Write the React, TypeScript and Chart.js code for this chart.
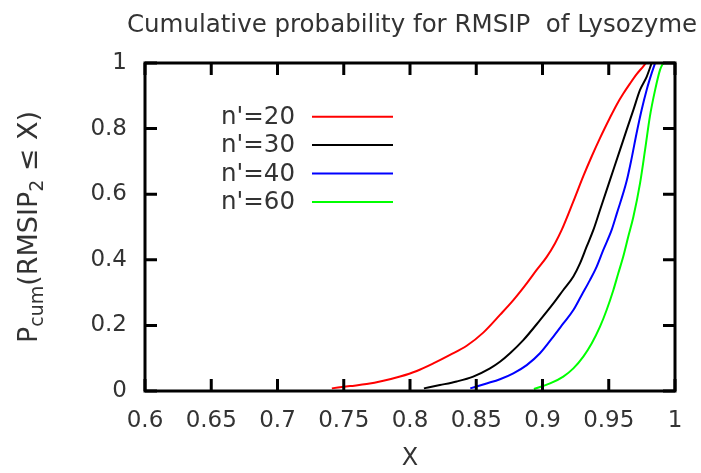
import React, { useEffect, useRef } from "react";
import { Chart, registerables } from "chart.js";

Chart.register(...registerables);

const TITLE = "Cumulative probability for RMSIP  of Lysozyme";
const X_LABEL = "X";
const xTickLabels = ["0.6", "0.65", "0.7", "0.75", "0.8", "0.85", "0.9", "0.95", "1"];
const yTickLabels = ["0", "0.2", "0.4", "0.6", "0.8", "1"];
const seriesLabels = ["n'=20", "n'=30", "n'=40", "n'=60"];
const seriesColors = ["#ff0000", "#000000", "#0000ff", "#00ff00"];

const x20 = [0.741, 0.7547, 0.7673, 0.7799, 0.7925, 0.8051, 0.8176, 0.8302, 0.8428, 0.8553, 0.8679, 0.878, 0.8881, 0.8956, 0.9032, 0.9094, 0.9145, 0.9233, 0.9308, 0.9371, 0.9434, 0.9509, 0.956, 0.9609, 0.966, 0.9711, 0.9761, 0.978];
const p20 = [0.008, 0.015, 0.021, 0.031, 0.044, 0.061, 0.084, 0.11, 0.138, 0.178, 0.232, 0.277, 0.328, 0.369, 0.409, 0.45, 0.491, 0.578, 0.655, 0.715, 0.771, 0.833, 0.873, 0.906, 0.937, 0.966, 0.99, 1];

const x30 = [0.8105, 0.8226, 0.8352, 0.8477, 0.8604, 0.8679, 0.8755, 0.8855, 0.8981, 0.9082, 0.9157, 0.9233, 0.9283, 0.9333, 0.9384, 0.9434, 0.9509, 0.9585, 0.9635, 0.9686, 0.9736, 0.9786, 0.9824];
const p30 = [0.008, 0.018, 0.029, 0.044, 0.069, 0.089, 0.115, 0.155, 0.216, 0.267, 0.308, 0.349, 0.389, 0.44, 0.491, 0.552, 0.643, 0.735, 0.796, 0.857, 0.918, 0.958, 1];

const x40 = [0.8455, 0.8578, 0.8679, 0.878, 0.8881, 0.8981, 0.9082, 0.9157, 0.9233, 0.9296, 0.9358, 0.9409, 0.9459, 0.9522, 0.956, 0.9635, 0.9673, 0.971, 0.9748, 0.9786, 0.9824, 0.985];
const p40 = [0.008, 0.023, 0.036, 0.054, 0.079, 0.115, 0.166, 0.206, 0.247, 0.293, 0.338, 0.379, 0.43, 0.491, 0.54, 0.64, 0.71, 0.786, 0.857, 0.918, 0.969, 1];

const x60 = [0.8935, 0.9057, 0.9157, 0.9233, 0.9308, 0.9371, 0.9434, 0.9484, 0.9535, 0.9572, 0.9609, 0.9647, 0.9686, 0.9736, 0.9774, 0.981, 0.985, 0.9887, 0.991];
const p60 = [0.006, 0.023, 0.044, 0.069, 0.105, 0.145, 0.196, 0.247, 0.308, 0.359, 0.409, 0.47, 0.531, 0.633, 0.735, 0.836, 0.918, 0.979, 1];

const FONT = '"DejaVu Sans", "Liberation Sans", sans-serif';
const TEXT_COLOR = "#333333";

export default function App() {
  const ref = useRef<HTMLCanvasElement>(null);

  useEffect(() => {
    document.body.style.margin = "0";
    const canvas = ref.current;
    if (!canvas) return;
    const mk = (xs: number[], ps: number[]) => xs.map((x, i) => ({ x, y: ps[i] }));
    const allX = [x20, x30, x40, x60];
    const allP = [p20, p30, p40, p60];

    const decor = {
      id: "decor",
      afterDatasetsDraw(chart: any) {
        const { ctx, chartArea: a, scales } = chart;
        ctx.save();
        ctx.strokeStyle = "#000";
        ctx.lineWidth = 3;
        const tl = 12;
        ctx.beginPath();
        scales.x.ticks.forEach((t: any) => {
          const px = scales.x.getPixelForValue(t.value);
          ctx.moveTo(px, a.bottom);
          ctx.lineTo(px, a.bottom - tl);
          ctx.moveTo(px, a.top);
          ctx.lineTo(px, a.top + tl);
        });
        scales.y.ticks.forEach((t: any) => {
          const py = scales.y.getPixelForValue(t.value);
          ctx.moveTo(a.left, py);
          ctx.lineTo(a.left + tl, py);
          ctx.moveTo(a.right, py);
          ctx.lineTo(a.right - tl, py);
        });
        ctx.stroke();
        ctx.strokeRect(a.left, a.top, a.right - a.left, a.bottom - a.top);
        ctx.restore();
      },
      afterDraw(chart: any) {
        const { ctx, chartArea: a } = chart;
        ctx.save();
        ctx.fillStyle = TEXT_COLOR;
        // title
        ctx.font = `24.5px ${FONT}`;
        ctx.textAlign = "center";
        ctx.textBaseline = "alphabetic";
        ctx.fillText(TITLE, (a.left + a.right) / 2 + 2, 32);

        // y-axis label with subscripts
        const big = `27px ${FONT}`;
        const small = `19px ${FONT}`;
        const parts: [string, string, number][] = [
          ["P", big, 0],
          ["cum", small, 6],
          ["(RMSIP", big, 0],
          ["2", small, 6],
          [" \u2264 X)", big, 0],
        ];
        let total = 0;
        parts.forEach(([t, f]) => {
          ctx.font = f;
          total += ctx.measureText(t).width;
        });
        ctx.translate(37, (a.top + a.bottom) / 2);
        ctx.rotate(-Math.PI / 2);
        ctx.textAlign = "left";
        let cx = -total / 2;
        parts.forEach(([t, f, dy]) => {
          ctx.font = f;
          ctx.fillText(t, cx, dy);
          cx += ctx.measureText(t).width;
        });
        ctx.setTransform(1, 0, 0, 1, 0, 0);

        // legend
        const ds = chart.data.datasets;
        ctx.font = `24.5px ${FONT}`;
        ctx.textAlign = "right";
        ctx.textBaseline = "middle";
        ds.forEach((d: any, i: number) => {
          const y = 116.7 + i * 28.4;
          ctx.fillStyle = TEXT_COLOR;
          ctx.fillText(d.label, 295, y + 1);
          ctx.strokeStyle = d.borderColor;
          ctx.lineWidth = 2;
          ctx.beginPath();
          ctx.moveTo(312, y);
          ctx.lineTo(393, y);
          ctx.stroke();
        });
        ctx.restore();
      },
    };

    const chart = new Chart(canvas, {
      type: "line",
      data: {
        datasets: seriesLabels.map((label, i) => ({
          label,
          data: mk(allX[i], allP[i]),
          borderColor: seriesColors[i],
          backgroundColor: seriesColors[i],
          borderWidth: 2,
          pointRadius: 0,
          cubicInterpolationMode: "monotone" as const,
          fill: false,
        })),
      },
      options: {
        responsive: false,
        animation: false,
        layout: { padding: { left: 0, right: 26, top: 63, bottom: 0 } },
        plugins: {
          legend: { display: false },
          title: { display: false },
          tooltip: { enabled: false },
        },
        scales: {
          x: {
            type: "linear",
            min: 0.6,
            max: 1,
            grid: { display: false, drawTicks: false },
            border: { display: false },
            ticks: {
              stepSize: 0.05,
              padding: 16,
              color: TEXT_COLOR,
              font: { family: FONT, size: 23 },
              maxRotation: 0,
              autoSkip: false,
              callback: (_v: any, i: number) => xTickLabels[i],
            },
            title: {
              display: true,
              text: X_LABEL,
              color: TEXT_COLOR,
              font: { family: FONT, size: 24 },
              padding: { top: 0, bottom: 0 },
            },
            afterFit: (s: any) => {
              s.height = 82;
            },
          },
          y: {
            type: "linear",
            min: 0,
            max: 1,
            grid: { display: false, drawTicks: false },
            border: { display: false },
            ticks: {
              stepSize: 0.2,
              padding: 18,
              color: TEXT_COLOR,
              font: { family: FONT, size: 23 },
              callback: (_v: any, i: number) => yTickLabels[i],
            },
            afterFit: (s: any) => {
              s.width = 145;
            },
          },
        },
      },
      plugins: [decor],
    });
    return () => chart.destroy();
  }, []);

  return (
    <div style={{ position: "absolute", left: 0, top: 0, width: 701, height: 473 }}>
      <canvas ref={ref} width={701} height={473} style={{ display: "block" }} />
    </div>
  );
}
